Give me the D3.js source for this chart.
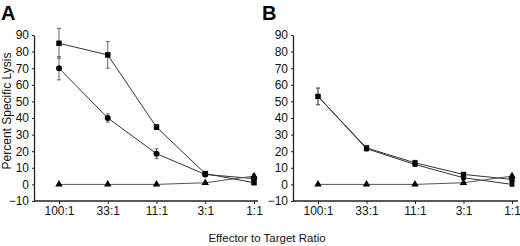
<!DOCTYPE html>
<html><head><meta charset="utf-8">
<script src="https://cdn.jsdelivr.net/npm/d3@7"></script>
<style>
body{margin:0;background:#fff;}
text{font-family:Arial,"Liberation Sans",Helvetica,sans-serif;}
</style></head>
<body><svg id="c" width="520" height="246"></svg>
<script>
const categories = ["100:1","33:1","11:1","3:1","1:1"];
const yTicks = [-10,0,10,20,30,40,50,60,70,80,90];

// Panel A
const aSquare = [85, 78, 34.5, 6.5, 1];
const aSquareErr = [9, 8, 1.5, 0.8, 0.8];
const aCircle = [70, 40, 18.5, 6, 3.5];
const aCircleErr = [7, 2.5, 3, 0.8, 0.8];
const aTriangle = [0, 0, 0, 1, 5];
const aTriangleErr = [0.5, 0.5, 0.5, 0.5, 1];

// Panel B
const bSquare = [53, 22, 13, 6, 3];
const bSquareErr = [5, 1.5, 1.5, 1, 0.8];
const bCircle = [53, 21.5, 12, 4, 0];
const bCircleErr = [5, 1.5, 1, 0.8, 0.5];
const bTriangle = [0, 0, 0, 1, 5];
const bTriangleErr = [0.5, 0.5, 0.5, 0.5, 1];

const svg = d3.select("#c");

function panel(opt){
  const g = svg.append("g");
  const y = d3.scaleLinear().domain([-10,90]).range([201,35]);
  const x = d3.scalePoint().domain(categories).range([opt.x0, opt.x1]);
  // y axis
  const ya = g.append("g").attr("transform",`translate(${opt.ax},0)`)
    .call(d3.axisLeft(y).tickValues(yTicks).tickSize(2).tickSizeOuter(0).tickPadding(3));
  ya.select(".domain").attr("stroke","#222").attr("stroke-width",1.3);
  ya.selectAll(".tick line").attr("stroke","#222");
  ya.selectAll("text").attr("font-size",12).attr("fill","#111").attr("font-family","Arial, 'Liberation Sans', sans-serif");
  // x axis
  const xa = g.append("g").attr("transform",`translate(0,${y(-10)})`)
    .call(d3.axisBottom(x).tickSize(3).tickPadding(2));
  xa.select(".domain").remove();
  xa.append("line").attr("x1",opt.ax).attr("x2",opt.axEnd).attr("stroke","#222").attr("stroke-width",1.3);
  xa.selectAll(".tick line").attr("stroke","#222");
  xa.selectAll("text").attr("font-size",12).attr("fill","#111").attr("font-family","Arial, 'Liberation Sans', sans-serif");

  const line = d3.line().x((d,i)=>x(categories[i])).y(d=>y(d));
  opt.series.forEach(s=>{
    g.append("path").datum(s.v).attr("d",line).attr("fill","none")
      .attr("stroke",s.lc||"#333").attr("stroke-width",1);
  });
  opt.series.forEach(s=>{
    s.v.forEach((v,i)=>{
      const cx = x(categories[i]);
      const e = s.e[i];
      if(e>0.9){
        g.append("line").attr("x1",cx).attr("x2",cx).attr("y1",y(v+e)).attr("y2",y(v-e))
          .attr("stroke","#666").attr("stroke-width",1);
        [v+e,v-e].forEach(t=>g.append("line").attr("x1",cx-2).attr("x2",cx+2).attr("y1",y(t)).attr("y2",y(t))
          .attr("stroke","#666").attr("stroke-width",1));
      }
    });
    const sym = d3.symbol().type(s.type).size(s.size);
    g.selectAll(null).data(s.v).enter().append("path")
      .attr("d",sym)
      .attr("transform",(d,i)=>`translate(${x(categories[i])},${y(d)})`)
      .attr("fill","#000");
  });
  g.append("text").attr("x",opt.lx).attr("y",20).attr("font-size",20).attr("font-weight","bold")
    .attr("fill","#000").text(opt.label);
}

panel({x0:59,x1:254,ax:34,axEnd:258,lx:1,label:"A",series:[
  {v:aSquare,e:aSquareErr,type:d3.symbolSquare,size:30},
  {v:aCircle,e:aCircleErr,type:d3.symbolCircle,size:28},
  {v:aTriangle,e:aTriangleErr,type:d3.symbolTriangle,size:24,lc:"#555"}
]});
panel({x0:318,x1:512,ax:293,axEnd:518,lx:262,label:"B",series:[
  {v:bSquare,e:bSquareErr,type:d3.symbolSquare,size:28},
  {v:bCircle,e:bCircleErr,type:d3.symbolSquare,size:22},
  {v:bTriangle,e:bTriangleErr,type:d3.symbolTriangle,size:24,lc:"#555"}
]});

svg.append("text").attr("transform","translate(11,111) rotate(-90)")
  .attr("text-anchor","middle").attr("font-size",12).attr("fill","#111").text("Percent Specific Lysis");
svg.append("text").attr("x",267).attr("y",242)
  .attr("text-anchor","middle").attr("font-size",11.5).attr("fill","#111").text("Effector to Target Ratio");
</script></body></html>
